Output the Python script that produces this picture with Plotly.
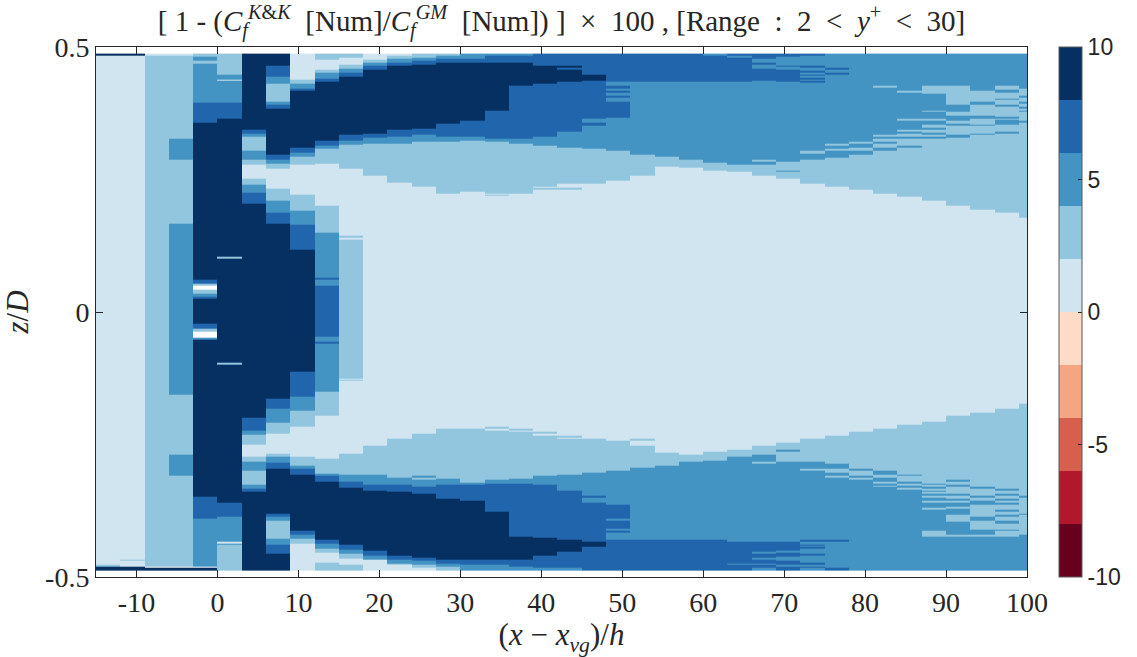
import plotly.graph_objects as go

# Streamwise column edges, (x - x_vg)/h
x_edges = list(range(-15, 103, 3))

# Data extent in z/D
z_top = 0.4875

# Each column: (lower z/D edge of band, value in %) listed from top to bottom.
# None marks cells without a value.
c01 = [(0.484, 9), (-0.477, 1), (-0.4805, 3), (-0.4875, 9)]
c02 = [(0.484, 9), (-0.468, 1), (-0.470, 3), (-0.481, 1), (-0.4875, 9)]
c03 = [(0.484, 1), (-0.480, 3), (-0.482, None), (-0.4875, 9)]
c04 = [(0.484, 1), (0.3264, 3), (0.2868, 5), (0.1673, 3), (-0.1566, 5), (-0.2698, 3),
       (-0.3088, 5), (-0.480, 3), (-0.482, None), (-0.4875, 9)]
c05 = [(0.4818, 3), (0.4736, 5), (0.4692, 3), (0.395, 5), (0.3573, 7), (0.0604, 9),
       (0.054, 7), (0.049, 3), (0.0415, None), (0.0352, 3), (0.029, 5), (0.0258, 7),
       (-0.0214, 9), (-0.0308, 7), (-0.0371, 3), (-0.0478, None), (-0.0528, 5),
       (-0.3484, 9), (-0.3893, 7), (-0.480, 5), (-0.482, None), (-0.4875, 9)]
c06 = [(0.4472, 3), (0.439, 5), (0.4359, 1), (0.395, 5), (0.3654, 7), (0.1044, 9),
       (0.1, 3), (-0.0956, 9), (-0.0994, 3), (-0.3598, 9), (-0.3862, 7), (-0.4333, 5),
       (-0.4365, 1), (-0.4396, 5), (-0.4875, 3)]
c07 = [(0.3434, 9), (0.3371, 7), (0.3308, 5), (0.3038, 3), (0.2868, 5), (0.2774, 3),
       (0.2522, 1), (0.2396, 3), (0.2258, 5), (0.2038, 7), (-0.2, 9), (-0.2245, 7),
       (-0.2321, 5), (-0.251, 3), (-0.273, 1), (-0.2824, 3), (-0.2994, 5), (-0.3264, 3),
       (-0.3327, 5), (-0.339, 7), (-0.4875, 9)]
c08 = [(0.4642, 9), (0.4441, 7), (0.4302, 5), (0.3969, 3), (0.3906, 5), (0.3831, 7),
       (0.2963, 9), (0.2868, 7), (0.2793, 5), (0.2705, 3), (0.2334, 1), (0.2095, 3),
       (0.1874, 5), (0.166, 7), (-0.1642, 9), (-0.1831, 7), (-0.2082, 5), (-0.2302, 3),
       (-0.2667, 1), (-0.273, 3), (-0.2837, 5), (-0.295, 7), (-0.3811, 9), (-0.3862, 7),
       (-0.3937, 5), (-0.427, 3), (-0.4396, 5), (-0.4566, 7), (-0.4875, 9)]
c09 = [(0.439, 1), (0.4302, 3), (0.422, 5), (0.417, 7), (0.31, 9), (0.3007, 7),
       (0.2931, 5), (0.2774, 3), (0.2208, 1), (0.1906, 3), (0.1642, 5), (0.117, 7),
       (-0.1126, 9), (-0.16, 7), (-0.187, 5), (-0.2164, 3), (-0.273, 1), (-0.29, 3),
       (-0.2962, 5), (-0.3076, 7), (-0.4126, 9), (-0.4207, 7), (-0.427, 5), (-0.4377, 3),
       (-0.4875, 1)]
c10 = [(0.4768, 3), (0.4579, 1), (0.4516, 3), (0.4409, 5), (0.4346, 7), (0.3227, 9),
       (0.3139, 7), (0.3076, 5), (0.2793, 3), (0.2, 1), (0.1497, 3), (0.0648, 5),
       (0.0604, 7), (0.049, 5), (-0.0466, 7), (-0.056, 5), (-0.0604, 7), (-0.1503, 5),
       (-0.1962, 3), (-0.2774, 1), (-0.3044, 3), (-0.3094, 5), (-0.3201, 7), (-0.4302, 9),
       (-0.4365, 7), (-0.4459, 5), (-0.4535, 3), (-0.473, 1), (-0.4875, 3)]
c11 = [(0.4805, 3), (0.466, 1), (0.4598, 3), (0.4516, 5), (0.4441, 7), (0.334, 9),
       (0.3227, 7), (0.3151, 5), (0.2698, 3), (0.1434, 1), (0.141, 3), (0.1371, 1),
       (-0.1252, 3), (-0.128, 1), (-0.13, 3), (-0.2667, 1), (-0.3076, 3), (-0.3201, 5),
       (-0.3308, 7), (-0.4396, 9), (-0.4478, 7), (-0.4566, 5), (-0.4648, 3), (-0.4774, 1),
       (-0.4875, 3)]
c12 = [(0.4755, 1), (0.4705, 3), (0.4642, 5), (0.4566, 7), (0.3359, 9), (0.3296, 7),
       (0.317, 5), (0.2573, 3), (-0.2528, 1), (-0.3076, 3), (-0.3264, 5), (-0.3378, 7),
       (-0.4503, 9), (-0.4598, 7), (-0.468, 5), (-0.4875, 1)]
c13 = [(0.483, 1), (0.4774, 3), (0.4704, 5), (0.4648, 7), (0.3434, 9), (0.3308, 7),
       (0.317, 5), (0.244, 3), (-0.2396, 1), (-0.3126, 3), (-0.3264, 5), (-0.339, 7),
       (-0.4604, 9), (-0.468, 7), (-0.4742, 5), (-0.4774, 3), (-0.4875, 1)]
c14 = [(0.4799, 3), (0.4736, 5), (0.466, 7), (0.3465, 9), (0.334, 7), (0.3214, 5),
       (0.2365, 3), (-0.2302, 1), (-0.3094, 3), (-0.3126, 5), (-0.317, 3), (-0.3296, 5),
       (-0.3434, 7), (-0.4635, 9), (-0.4698, 7), (-0.4774, 5), (-0.4824, 3), (-0.4875, 1)]
c15 = [(0.483, 3), (0.4774, 5), (0.4704, 7), (0.356, 9), (0.3308, 7), (0.3214, 5),
       (0.2226, 3), (-0.2208, 1), (-0.3138, 3), (-0.3264, 5), (-0.3528, 7), (-0.468, 9),
       (-0.4742, 7), (-0.4805, 5), (-0.4875, 3)]
c16 = [(0.4786, 5), (0.4704, 7), (0.3604, 9), (0.3308, 7), (0.3233, 5), (0.227, 3),
       (-0.2208, 1), (-0.3214, 3), (-0.3264, 5), (-0.3566, 7), (-0.468, 9), (-0.4774, 7),
       (-0.4875, 5)]
c17 = [(0.483, 5), (0.4704, 7), (0.3792, 9), (0.3264, 7), (0.3214, 5), (0.2239, 3),
       (0.2214, 1), (0.2195, 3), (-0.217, 1), (-0.2208, 3), (-0.2245, 1), (-0.317, 3),
       (-0.3245, 5), (-0.3774, 7), (-0.468, 9), (-0.4774, 7), (-0.4875, 5)]
c18 = [(0.483, 5), (0.4704, 7), (0.4264, 9), (0.3264, 7), (0.317, 5), (0.2226, 3),
       (-0.2208, 1), (-0.2245, 3), (-0.2264, 1), (-0.3138, 3), (-0.3245, 5), (-0.4245, 7),
       (-0.468, 9), (-0.4805, 7), (-0.4875, 5)]
c19 = [(0.4641, 7), (0.4302, 9), (0.3308, 7), (0.3132, 5), (0.2365, 3), (0.2346, 1),
       (0.2308, 3), (-0.2264, 1), (-0.2302, 3), (-0.2333, 1), (-0.3094, 3), (-0.3264, 5),
       (-0.4264, 7), (-0.4604, 9), (-0.4824, 7), (-0.4875, 5)]
c20 = [(0.4641, 7), (0.4604, 9), (0.4566, 7), (0.4346, 9), (0.3403, 7), (0.31, 5),
       (0.2428, 3), (0.2346, 1), (0.2308, 3), (-0.2333, 1), (-0.2371, 3), (-0.239, 1),
       (-0.3076, 3), (-0.3377, 5), (-0.4302, 7), (-0.4522, 9), (-0.4824, 7), (-0.4875, 5)]
c21 = [(0.4472, 7), (0.4365, 9), (0.3642, 7), (0.3572, 5), (0.3509, 7), (0.3075, 5),
       (0.2428, 3), (-0.2396, 1), (-0.304, 3), (-0.3472, 5), (-0.351, 7), (-0.3604, 5),
       (-0.434, 7), (-0.4428, 9), (-0.4875, 7)]
c22 = [(0.4346, 7), (0.4264, 5), (0.422, 7), (0.4176, 5), (0.4138, 7), (0.4075, 5),
       (0.4038, 7), (0.3962, 5), (0.366, 7), (0.3038, 5), (0.2472, 3), (-0.2434, 1),
       (-0.3, 3), (-0.3642, 5), (-0.3906, 7), (-0.3944, 5), (-0.4095, 7), (-0.4132, 5),
       (-0.417, 7), (-0.4302, 5), (-0.4875, 7)]
c23 = [(0.4346, 7), (0.2962, 5), (0.2566, 3), (-0.2396, 1), (-0.2434, 3), (-0.2528, 1),
       (-0.2943, 3), (-0.4302, 5), (-0.4875, 7)]
c24 = [(0.4346, 7), (0.2931, 5), (0.2742, 3), (-0.266, 1), (-0.2906, 3), (-0.4302, 5),
       (-0.4875, 7)]
c25 = [(0.4346, 7), (0.2868, 5), (0.273, 3), (-0.2698, 1), (-0.283, 3), (-0.4302, 5),
       (-0.4875, 7)]
c26 = [(0.483, 5), (0.4346, 7), (0.2824, 5), (0.266, 3), (-0.2641, 1), (-0.281, 3),
       (-0.4302, 5), (-0.4875, 7)]
c27 = [(0.483, 7), (0.4799, 5), (0.4346, 7), (0.2774, 5), (0.2641, 3), (-0.2604, 1),
       (-0.2736, 3), (-0.434, 5), (-0.4742, 7), (-0.4774, 5), (-0.4875, 7)]
c28 = [(0.4786, 7), (0.4704, 5), (0.466, 7), (0.4597, 5), (0.4365, 7), (0.2868, 5),
       (0.283, 3), (0.2774, 5), (0.2566, 3), (-0.2528, 1), (-0.2698, 3), (-0.283, 5),
       (-0.2868, 3), (-0.434, 5), (-0.4528, 7), (-0.4566, 5), (-0.4641, 7), (-0.468, 5),
       (-0.4742, 7), (-0.4774, 5), (-0.4824, 7), (-0.4875, 5)]
c29 = [(0.4817, 7), (0.4654, 5), (0.4629, 7), (0.4566, 5), (0.4346, 7), (0.283, 5),
       (0.266, 3), (0.2641, 5), (0.2509, 3), (-0.2472, 1), (-0.2604, 3), (-0.2641, 5),
       (-0.283, 3), (-0.434, 5), (-0.451, 7), (-0.4541, 5), (-0.4617, 7), (-0.4692, 5),
       (-0.4774, 7), (-0.4805, 5), (-0.4875, 7)]
c30 = [(0.483, 7), (0.4641, 5), (0.4604, 7), (0.4547, 5), (0.4522, 7), (0.4484, 5),
       (0.4453, 7), (0.4428, 5), (0.439, 7), (0.4358, 5), (0.4333, 7), (0.3038, 5),
       (0.2994, 3), (0.2868, 5), (0.2428, 3), (-0.2396, 1), (-0.283, 3), (-0.2962, 5),
       (-0.3, 3), (-0.4302, 5), (-0.434, 7), (-0.4384, 5), (-0.4415, 7), (-0.4434, 5),
       (-0.4472, 7), (-0.4566, 5), (-0.4604, 7), (-0.4736, 5), (-0.4774, 7), (-0.4805, 5),
       (-0.4824, 7), (-0.4875, 5)]
c31 = [(0.4604, 5), (0.4566, 7), (0.4516, 5), (0.4472, 7), (0.317, 5), (0.3132, 3),
       (0.3082, 5), (0.3044, 3), (0.2912, 5), (0.2358, 3), (-0.234, 1), (-0.2868, 3),
       (-0.2962, 5), (-0.304, 3), (-0.3094, 5), (-0.3132, 3), (-0.4302, 5), (-0.434, 7),
       (-0.4824, 5), (-0.4875, 7)]
c32 = [(0.3214, 5), (0.317, 3), (0.3107, 5), (0.3044, 3), (0.2962, 5), (0.2302, 3),
       (-0.2264, 1), (-0.2962, 3), (-0.3, 5), (-0.3094, 3), (-0.3132, 5), (-0.317, 3),
       (-0.4875, 5)]
c33 = [(0.4264, 5), (0.4233, 3), (0.334, 5), (0.3308, 3), (0.3264, 5), (0.3214, 3),
       (0.317, 5), (0.3107, 3), (0.3038, 5), (0.2226, 3), (-0.2208, 1), (-0.3, 3),
       (-0.3076, 5), (-0.3132, 3), (-0.3208, 5), (-0.3245, 3), (-0.3271, 5), (-0.3302, 3),
       (-0.4875, 5)]
c34 = [(0.417, 5), (0.4138, 3), (0.3641, 5), (0.3604, 3), (0.3434, 5), (0.3396, 3),
       (0.3359, 5), (0.3308, 3), (0.3264, 5), (0.3132, 3), (0.31, 5), (0.217, 3),
       (-0.2132, 1), (-0.3076, 3), (-0.3094, 5), (-0.3208, 3), (-0.3245, 5), (-0.3283, 3),
       (-0.3321, 5), (-0.3358, 3), (-0.4875, 5)]
c35 = [(0.4264, 5), (0.4126, 3), (0.3799, 5), (0.3774, 3), (0.3641, 5), (0.3604, 3),
       (0.3528, 5), (0.3484, 3), (0.3447, 5), (0.3384, 3), (0.334, 5), (0.3308, 3),
       (0.3264, 5), (0.2094, 3), (-0.2076, 1), (-0.3245, 3), (-0.3264, 5), (-0.3302, 3),
       (-0.334, 5), (-0.3377, 3), (-0.3396, 5), (-0.3434, 3), (-0.3472, 5), (-0.351, 3),
       (-0.3566, 5), (-0.3604, 3), (-0.3698, 5), (-0.3736, 3), (-0.4132, 5), (-0.4245, 3),
       (-0.4875, 5)]
c36 = [(0.4264, 5), (0.3906, 3), (0.378, 5), (0.3698, 3), (0.3604, 5), (0.356, 3),
       (0.3509, 5), (0.334, 3), (0.3296, 5), (0.2, 3), (-0.1962, 1), (-0.317, 3),
       (-0.3208, 5), (-0.3264, 3), (-0.3302, 5), (-0.3434, 3), (-0.3472, 5), (-0.3528, 3),
       (-0.3566, 5), (-0.3604, 3), (-0.368, 5), (-0.3717, 3), (-0.383, 5), (-0.3962, 3),
       (-0.4207, 5), (-0.4245, 3), (-0.4875, 5)]
c37 = [(0.417, 5), (0.3969, 3), (0.3906, 5), (0.3698, 3), (0.3648, 5), (0.3528, 3),
       (0.3509, 5), (0.337, 3), (0.334, 5), (0.1924, 3), (-0.1906, 1), (-0.3302, 3),
       (-0.334, 5), (-0.3472, 3), (-0.351, 5), (-0.3566, 3), (-0.3642, 5), (-0.3868, 3),
       (-0.3943, 5), (-0.41, 3), (-0.4207, 5), (-0.4245, 3), (-0.4875, 5)]
c38 = [(0.4264, 5), (0.4201, 3), (0.4138, 5), (0.4031, 3), (0.3999, 5), (0.3906, 3),
       (0.3874, 5), (0.3686, 3), (0.3654, 5), (0.3623, 3), (0.3528, 5), (0.3396, 3),
       (0.3359, 5), (0.1868, 3), (-0.183, 1), (-0.334, 3), (-0.3377, 5), (-0.3434, 3),
       (-0.3472, 5), (-0.3528, 3), (-0.3566, 5), (-0.3604, 3), (-0.3642, 5), (-0.3736, 3),
       (-0.3774, 5), (-0.383, 3), (-0.3868, 5), (-0.3943, 3), (-0.4, 5), (-0.41, 3),
       (-0.4132, 5), (-0.4245, 3), (-0.4875, 5)]
c39 = [(0.422, 5), (0.4075, 3), (0.4044, 5), (0.3962, 3), (0.3937, 5), (0.3874, 3),
       (0.3836, 5), (0.3799, 3), (0.3774, 5), (0.3604, 3), (0.3572, 5), (0.1774, 3),
       (-0.1736, 1), (-0.3472, 3), (-0.351, 5), (-0.3811, 3), (-0.383, 5), (-0.4207, 3),
       (-0.4875, 5)]

columns = [c01, c02, c03, c04, c05, c06, c07, c08, c09, c10, c11, c12, c13,
           c14, c15, c16, c17, c18, c19, c20, c21, c22, c23, c24, c25, c26,
           c27, c28, c29, c30, c31, c32, c33, c34, c35, c36, c37, c38, c39]

# Colour bar levels (RdBu, 10 classes from -10 to 10)
levels = [-10, -8, -6, -4, -2, 0, 2, 4, 6, 8, 10]
level_colors = ['#67001f', '#b2182b', '#d6604d', '#f4a582', '#fddbc7',
                '#d1e5f0', '#92c5de', '#4393c3', '#2166ac', '#053061']
cbar_ticks = [-10, -5, 0, 5, 10]
cbar_ticktext = ['-10', '-5', '0', '5', '10']
x_ticks = [-10, 0, 10, 20, 30, 40, 50, 60, 70, 80, 90, 100]
x_ticktext = ['-10', '0', '10', '20', '30', '40', '50', '60', '70', '80', '90', '100']
y_ticks = [-0.5, 0, 0.5]
y_ticktext = ['-0.5', '0', '0.5']

# Row edges: union of every band boundary in all columns
edge_set = {round(z_top, 4)}
for col in columns:
    for lower, _ in col:
        edge_set.add(round(lower, 4))
y_edges = sorted(edge_set)

# Fill the cell grid (rows x columns) band by band
grid = []
for i in range(len(y_edges) - 1):
    mid = 0.5 * (y_edges[i] + y_edges[i + 1])
    row = []
    for col in columns:
        upper = z_top
        val = None
        for lower, v in col:
            if lower <= mid < upper:
                val = v
                break
            upper = lower
        row.append(val)
    grid.append(row)

# Stepped colour scale
lo, hi = levels[0], levels[-1]
colorscale = []
for k, c in enumerate(level_colors):
    colorscale.append([(levels[k] - lo) / (hi - lo), c])
    colorscale.append([(levels[k + 1] - lo) / (hi - lo), c])

ink = '#262626'
serif = 'Liberation Serif'
sp = '&#8197;'  # four-per-em space, for math-style spacing

fig = go.Figure(go.Heatmap(
    x=x_edges, y=y_edges, z=grid,
    zmin=lo, zmax=hi, colorscale=colorscale, hoverongaps=False,
    colorbar=dict(
        x=1.034, xanchor='left', xpad=0, ypad=0,
        y=0.5, yanchor='middle', len=1, lenmode='fraction',
        thickness=23, thicknessmode='pixels',
        outlinewidth=1, outlinecolor='#5a5a5a',
        tickmode='array', tickvals=cbar_ticks, ticktext=cbar_ticktext,
        ticks='inside', ticklen=4, tickcolor=ink, tickwidth=1,
        tickfont=dict(family='Liberation Sans', size=23, color=ink),
    ),
))

title_text = (f'[ 1 - (<i>C</i><sub><i>f</i></sub><sup><i>K</i>&amp;<i>K</i></sup>{sp} [Num]/'
              f'<i>C</i><sub><i>f</i></sub><sup><i>GM</i></sup>{sp} [Num]) ] {sp}×{sp} 100 , '
              f'[Range {sp}:{sp} 2 {sp}&lt;{sp} <i>y</i><sup>+</sup> {sp}&lt;{sp} 30]')

fig.update_layout(
    width=1137, height=657,
    margin=dict(l=96, r=102, t=47, b=80),
    paper_bgcolor='white', plot_bgcolor='white',
    font=dict(family=serif, size=28, color=ink),
    title=dict(text=title_text, x=0.5, xref='paper', xanchor='center',
               y=1 - 21 / 657, yref='container', yanchor='middle',
               font=dict(family=serif, size=29, color=ink)),
)

fig.update_xaxes(
    range=[-15, 100], tickmode='array', tickvals=x_ticks, ticktext=x_ticktext,
    ticks='inside', ticklen=7, tickcolor=ink, tickwidth=1,
    showline=True, linecolor=ink, linewidth=1, mirror='ticks',
    showgrid=False, zeroline=False,
    tickfont=dict(family=serif, size=28, color=ink),
    title=dict(text='(<i>x</i> − <i>x</i><sub><i>vg</i></sub>)/<i>h</i>',
               standoff=2, font=dict(family=serif, size=31, color=ink)),
)
fig.update_yaxes(
    range=[-0.5, 0.5], tickmode='array', tickvals=y_ticks, ticktext=y_ticktext,
    ticks='inside', ticklen=7, tickcolor=ink, tickwidth=1,
    showline=True, linecolor=ink, linewidth=1, mirror='ticks',
    showgrid=False, zeroline=False,
    tickfont=dict(family=serif, size=28, color=ink),
    title=dict(text='<i>z</i>/<i>D</i>', standoff=8,
               font=dict(family=serif, size=31, color=ink)),
)

fig.write_html('out.html')
